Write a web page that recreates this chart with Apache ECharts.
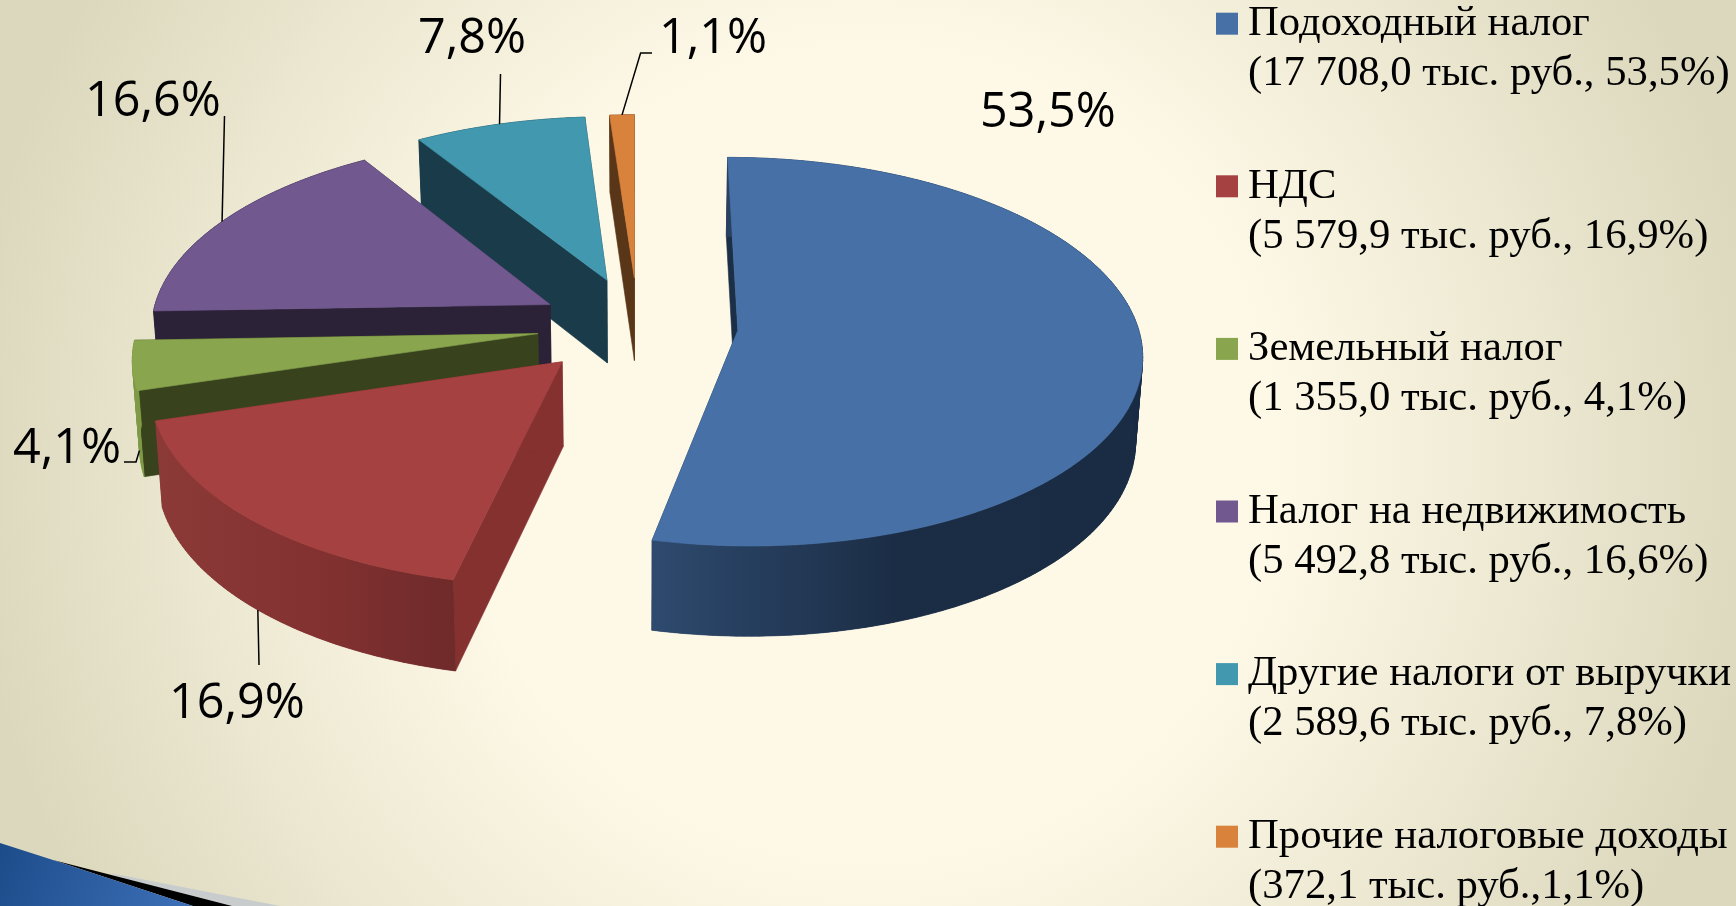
<!DOCTYPE html>
<html>
<head>
<meta charset="utf-8">
<style>
    html, body { margin: 0; padding: 0; width: 100%; height: 100%; overflow: hidden; }
    #chart { width: 1736px; height: 906px; }
</style>
<script src="https://cdn.jsdelivr.net/npm/echarts@6/dist/echarts.min.js"></script>
</head>
<body>
<div id="chart"></div>
<script>
// data
const categories = ['Подоходный налог', 'НДС', 'Земельный налог', 'Налог на недвижимость', 'Другие налоги от выручки', 'Прочие налоговые доходы']
const values = [17708.0, 5579.9, 1355.0, 5492.8, 2589.6, 372.1]
const legendDetails = [
    '(17 708,0 тыс. руб., 53,5%)',
    '(5 579,9 тыс. руб., 16,9%)',
    '(1 355,0 тыс. руб., 4,1%)',
    '(5 492,8 тыс. руб., 16,6%)',
    '(2 589,6 тыс. руб., 7,8%)',
    '(372,1 тыс. руб.,1,1%)',
]

// colours
const topColors = ['#4670a6', '#a54140', '#89a54e', '#71588f', '#4198af', '#d8823c']
const faceColors = ['#1b2f47', '#843130', '#38431d', '#2c2238', '#1a3c4a', '#5a3618']
const wallColors = [
    ['#2e4a6e', '#1b2d45', '#1a2c44'],
    ['#8b3a38', '#843231', '#6f2a2a'],
    ['#7f9a47', '#7f9a47'],
    ['#2c2238', '#2c2238'],
    ['#1a3c4a', '#1a3c4a'],
    ['#5a3618', '#5a3618'],
]

// pie layout, the pie lies in a plane seen through a perspective
const vx = 635
const vy = 326
const radiusX = 400
const radiusY = 191
const persp = 0.11
const wallHeight = 84
const lean = 0.014
const explode = [0.258, 0.262, 0.245, 0.243, 0.27, 0.27]
const nudge = [[0, 0.006], [0, 0.008], [0, 0], [0, 0], [0.012, -0.011], [0.008, -0.011]]
const zOrder = [6, 5, 4, 3, 2, 1]

// labels and leader lines
const labelPos = [[980, 113], [169, 704], [13, 449], [85, 102], [418, 39], [659, 39]]
const leaderStart = [[], [[259, 665]], [[124, 462], [136, 462]], [[224.5, 116]], [[500.5, 74]], [[652, 53], [640.6, 53]]]
const leaderToBase = [false, true, true, false, false, false]

const total = values.reduce((a, b) => a + b, 0)

function project(X, Y, base) {
    const w = 1 + persp * Y
    let x = vx + radiusX * X / w
    let y = vy - radiusY * Y / w
    if (base) {
        x += (vx - x) * lean
        y += wallHeight * Math.pow(w, -0.6)
    }
    return [x, y]
}

function polar(deg) {
    const a = deg * Math.PI / 180
    return [Math.sin(a), Math.cos(a)]
}

function sliceShapes(i, startDeg, endDeg) {
    const mid = polar((startDeg + endDeg) / 2)
    const ax = mid[0] * explode[i] + nudge[i][0]
    const ay = mid[1] * explode[i] + nudge[i][1]
    const rimTop = []
    const rimBase = []
    const steps = Math.max(4, Math.ceil(endDeg - startDeg))
    for (let s = 0; s <= steps; s++) {
        const d = polar(startDeg + (endDeg - startDeg) * s / steps)
        rimTop.push(project(ax + d[0], ay + d[1], false))
        rimBase.push(project(ax + d[0], ay + d[1], true))
    }
    const apexTop = project(ax, ay, false)
    const apexBase = project(ax, ay, true)
    const midRim = project(ax + mid[0], ay + mid[1], leaderToBase[i])
    return { rimTop, rimBase, apexTop, apexBase, midRim }
}

function poly(points, fill, stroke) {
    return {
        type: 'polygon',
        shape: { points },
        style: { fill, stroke: stroke || null, lineWidth: stroke ? 0.6 : 0 },
        silent: true,
    }
}

function renderSlice(params, api) {
    const i = params.seriesIndex
    const before = values.slice(0, i).reduce((a, b) => a + b, 0)
    const startDeg = before / total * 360
    const endDeg = startDeg + api.value(0) / total * 360
    const g = sliceShapes(i, startDeg, endDeg)
    const last = g.rimTop.length - 1

    const children = [
        poly([g.apexTop, g.rimTop[0], g.rimBase[0], g.apexBase], faceColors[i], faceColors[i]),
        poly([g.apexTop, g.rimTop[last], g.rimBase[last], g.apexBase], faceColors[i], faceColors[i]),
    ]

    // quads close the silhouette where the wall turns away, the ring on top gives the smooth shading
    const xs = g.rimTop.map((p) => p[0])
    const xMin = Math.min.apply(null, xs)
    const xMax = Math.max.apply(null, xs)
    for (let s = 0; s < last; s++) {
        const t = (g.rimTop[s][0] - xMin) / (xMax - xMin)
        const c = echarts.color.lerp(t, wallColors[i])
        children.push(poly([g.rimTop[s], g.rimTop[s + 1], g.rimBase[s + 1], g.rimBase[s]], c, c))
    }
    const stops = wallColors[i].map((c, k) => ({ offset: k / (wallColors[i].length - 1), color: c }))
    children.push(poly(g.rimTop.concat(g.rimBase.slice().reverse()), new echarts.graphic.LinearGradient(0, 0, 1, 0, stops)))

    children.push(poly([g.apexTop].concat(g.rimTop), topColors[i], topColors[i]))

    if (leaderStart[i].length) {
        children.push({
            type: 'polyline',
            shape: { points: leaderStart[i].concat([g.midRim]) },
            style: { stroke: '#000', lineWidth: 1.5, fill: null },
            silent: true,
        })
    }
    children.push({
        type: 'text',
        x: labelPos[i][0],
        y: labelPos[i][1],
        silent: true,
        style: {
            text: (api.value(0) / total * 100).toFixed(1).replace('.', ',') + '%',
            font: '48.5px "Open Sans"',
            fill: '#000',
            align: 'left',
            verticalAlign: 'middle',
        },
    })
    return { type: 'group', children }
}

const chart = echarts.init(document.getElementById('chart'))

const options = {
    animation: false,
    backgroundColor: new echarts.graphic.RadialGradient(0.5, 0.5, 1, [
        { offset: 0, color: '#fef9e7' },
        { offset: 0.45, color: '#fef9e7' },
        { offset: 1, color: '#dcd8bd' },
    ]),
    legend: {
        orient: 'vertical',
        left: 1216,
        top: -51.3,
        height: 1200,
        padding: 0,
        icon: 'rect',
        itemWidth: 22,
        itemHeight: 22,
        itemGap: 12.6,
        selectedMode: false,
        data: categories,
        // blank first line keeps the square level with the name
        formatter: (name) => '\n' + name + '\n' + legendDetails[categories.indexOf(name)],
        textStyle: {
            fontFamily: '"Liberation Serif"',
            fontSize: 42.7,
            lineHeight: 50,
            color: '#000',
            padding: [0, 0, 0, 5],
        },
    },
    graphic: [
        {
            type: 'polygon',
            silent: true,
            shape: { points: [[110, 873], [280, 906], [190, 906]] },
            style: { fill: '#c8cccc' },
        },
        {
            type: 'polygon',
            silent: true,
            shape: { points: [[53, 860], [232, 906], [193, 906]] },
            style: { fill: '#000' },
        },
        {
            type: 'polygon',
            silent: true,
            shape: { points: [[0, 843], [53, 860], [193, 906], [0, 906]] },
            style: {
                fill: new echarts.graphic.LinearGradient(0, 0, 1, 1, [
                    { offset: 0, color: '#1d4c8a' },
                    { offset: 1, color: '#3d70b8' },
                ]),
            },
        },
    ],
    series: categories.map((name, i) => ({
        name,
        type: 'custom',
        coordinateSystem: 'none',
        z: zOrder[i],
        itemStyle: { color: topColors[i] },
        renderItem: renderSlice,
        data: [[values[i]]],
    })),
}

chart.setOption(options)
</script>
</body>
</html>
